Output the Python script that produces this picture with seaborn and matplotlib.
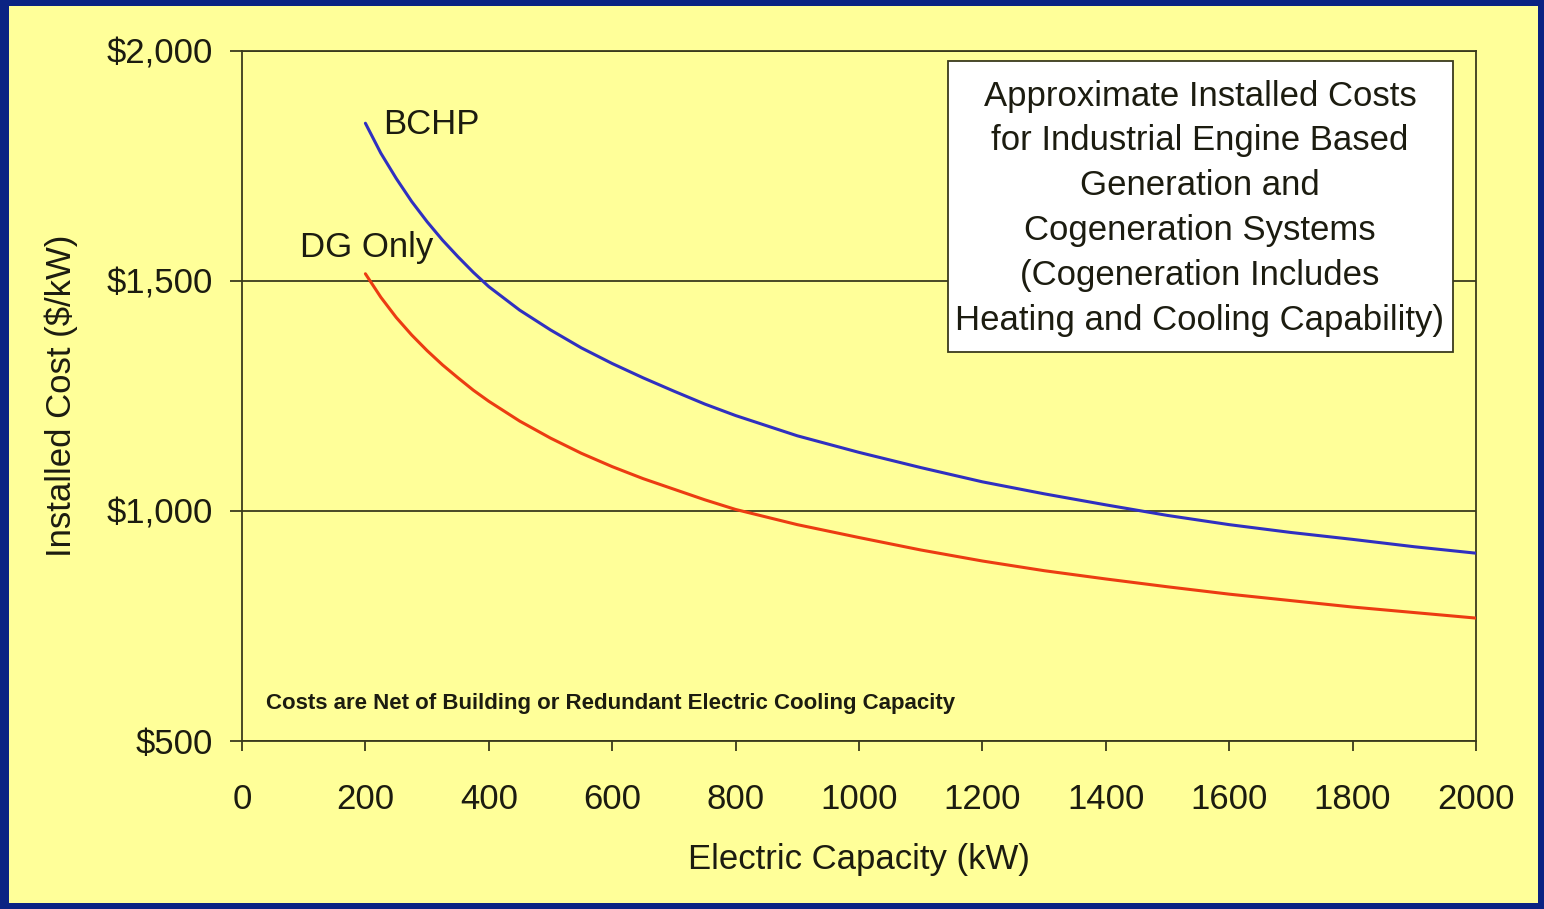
import matplotlib
matplotlib.use("Agg")
import matplotlib.pyplot as plt
from matplotlib.patches import Rectangle
import seaborn as sns
import pandas as pd

# values
capacity_kw = [200, 225, 250, 275, 300, 325, 350, 375, 400, 450, 500, 550, 600, 650, 700,
               750, 800, 900, 1000, 1100, 1200, 1300, 1400, 1500, 1600, 1700, 1800, 1900, 2000]
bchp_cost = [1842, 1777, 1722, 1672, 1628, 1588, 1552, 1518, 1487, 1436, 1393, 1354, 1320, 1289, 1260,
             1232, 1207, 1163, 1127, 1094, 1063, 1037, 1013, 990, 970, 953, 938, 922, 908]
dg_cost = [1515, 1464, 1420, 1382, 1348, 1317, 1289, 1262, 1238, 1195, 1158, 1125, 1096, 1070, 1047,
           1024, 1003, 970, 942, 915, 891, 870, 852, 835, 819, 805, 791, 779, 767]

x_ticks = [0, 200, 400, 600, 800, 1000, 1200, 1400, 1600, 1800, 2000]
y_ticks = [500, 1000, 1500, 2000]
y_tick_labels = ["$500", "$1,000", "$1,500", "$2,000"]

box_text = ("Approximate Installed Costs\nfor Industrial Engine Based\nGeneration and\n"
            "Cogeneration Systems\n(Cogeneration Includes\nHeating and Cooling Capability)")
note_text = "Costs are Net of Building or Redundant Electric Cooling Capacity"

BG_YELLOW = "#ffff99"
FRAME_BLUE = "#0a2383"
INK = "#1c1c10"
LINE_DARK = "#3a3a1c"

sns.set_style("ticks")
plt.rcParams["font.family"] = ["Liberation Sans", "DejaVu Sans"]
plt.rcParams["font.size"] = 25

df = pd.DataFrame({
    "capacity": capacity_kw * 2,
    "cost": bchp_cost + dg_cost,
    "series": ["BCHP"] * len(capacity_kw) + ["DG Only"] * len(capacity_kw),
})

fig = plt.figure(figsize=(15.44, 9.09), dpi=100)
fig.patch.set_facecolor(FRAME_BLUE)
fig.patches.append(Rectangle((9 / 1544, 6 / 909), 1529 / 1544, 897 / 909,
                             transform=fig.transFigure, facecolor=BG_YELLOW,
                             edgecolor="none", zorder=-5))

ax = fig.add_axes([242 / 1544, 1 - 741 / 909, 1234 / 1544, 690.5 / 909])
ax.set_zorder(2)
ax.set_facecolor(BG_YELLOW)

sns.lineplot(data=df, x="capacity", y="cost", hue="series",
             palette={"BCHP": "#3030c0", "DG Only": "#ec3c12"},
             linewidth=2.2, legend=False, ax=ax, zorder=3)

ax.set_xlim(0, 2000)
ax.set_ylim(500, 2000)
ax.set_xticks(x_ticks)
ax.set_xticklabels([str(t) for t in x_ticks])
ax.set_yticks(y_ticks)
ax.set_yticklabels(y_tick_labels)

ax.yaxis.grid(True, color=LINE_DARK, linewidth=1.3)
ax.xaxis.grid(False)
for side in ["left", "bottom", "right", "top"]:
    ax.spines[side].set_visible(True)
    ax.spines[side].set_color(LINE_DARK)
    ax.spines[side].set_linewidth(1.3)

ax.tick_params(axis="x", direction="out", length=7, width=1.3, color=LINE_DARK,
               pad=23, labelsize=25, labelcolor=INK)
ax.tick_params(axis="y", direction="out", length=9, width=1.3, color=LINE_DARK,
               pad=12, labelsize=25, labelcolor=INK)

ax.set_xlabel("Electric Capacity (kW)", fontsize=25, color=INK)
ax.set_ylabel("Installed Cost ($/kW)", fontsize=25, color=INK)
ax.xaxis.set_label_coords(0.5, -0.147)
ax.yaxis.set_label_coords(-0.133, 0.5)

# curve labels
ax.text(229, 1839, "BCHP", ha="left", va="center", fontsize=25, color=INK, zorder=4)
ax.text(94, 1571, "DG Only", ha="left", va="center", fontsize=25, color=INK, zorder=4)

# title box
ax.add_patch(Rectangle((0.5721, 0.5630), 0.4093, 0.4211, transform=ax.transAxes,
                       facecolor="white", edgecolor=LINE_DARK, linewidth=1.3, zorder=5))
ax.text(0.7763, 0.7713, box_text, transform=ax.transAxes, ha="center", va="center",
        multialignment="center", linespacing=1.46, fontsize=25, color=INK, zorder=6)

# footnote
ax.text(0.0194, 0.055, note_text, transform=ax.transAxes, ha="left", va="center",
        fontsize=16, fontweight="bold", color=INK, zorder=4)

fig.savefig("out.png", dpi=100, facecolor=fig.get_facecolor())
